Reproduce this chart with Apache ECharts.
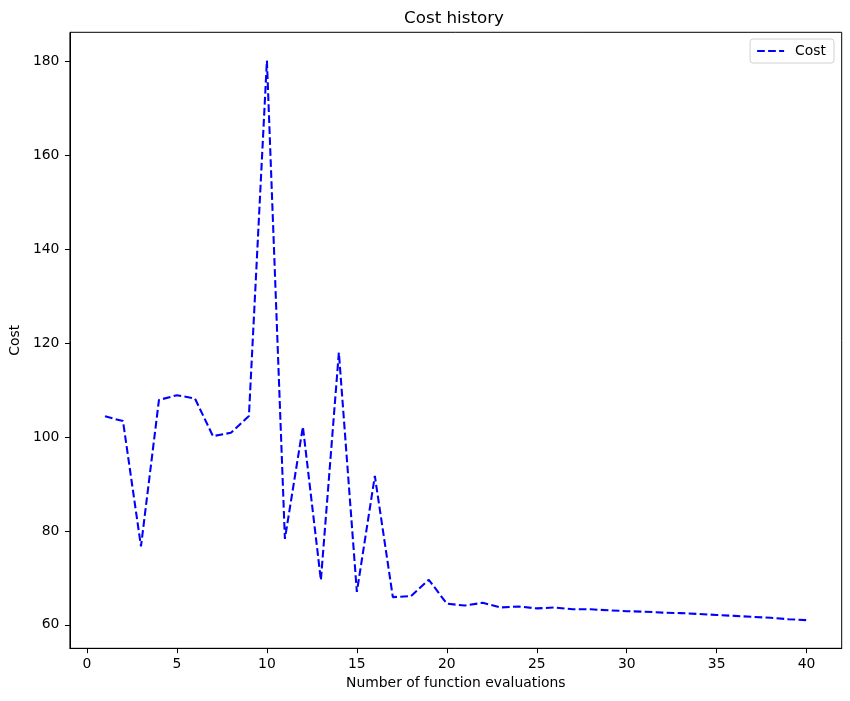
<!DOCTYPE html>
<html>
<head>
<meta charset="utf-8">
<title>Cost history</title>
<script src="https://cdn.jsdelivr.net/npm/echarts@6/dist/echarts.min.js"></script>
<style>
  html, body { margin: 0; padding: 0; background: #fff; }
  #main { width: 850px; height: 701px; }
</style>
</head>
<body>
<div id="main"></div>
<script>
// evaluations 1..40
const evaluations = [
  1, 2, 3, 4, 5, 6, 7, 8, 9, 10,
  11, 12, 13, 14, 15, 16, 17, 18, 19, 20,
  21, 22, 23, 24, 25, 26, 27, 28, 29, 30,
  31, 32, 33, 34, 35, 36, 37, 38, 39, 40
];
const cost = [
  104.4, 103.4, 76.7, 107.9, 108.9, 108.2, 100.2, 100.9, 104.5, 180.2,
  78.3, 102.2, 69.5, 118.0, 67.0, 91.7, 65.9, 66.1, 69.6, 64.5,
  64.1, 64.7, 63.7, 63.9, 63.5, 63.7, 63.3, 63.3, 63.1, 62.9,
  62.8, 62.6, 62.5, 62.3, 62.1, 61.9, 61.7, 61.5, 61.2, 61.0
];
const xTicks = [0, 5, 10, 15, 20, 25, 30, 35, 40];
const yTicks = [60, 80, 100, 120, 140, 160, 180];

const chartDom = document.getElementById("main");
const myChart = echarts.init(chartDom);
const font = "DejaVu Sans";

const option = {
  animation: false,
  title: {
    text: "Cost history",
    left: 454,
    top: 10,
    padding: 0,
    textAlign: "center",
    textStyle: { fontFamily: font, fontSize: 16.7, fontWeight: "normal", color: "#000" },
  },
  legend: {
    right: 16,
    top: 39,
    padding: [5, 8, 5, 6],
    backgroundColor: "#fff",
    borderColor: "#d0d0d0",
    borderWidth: 1,
    borderRadius: 3,
    itemWidth: 27,
    itemHeight: 14,
    itemStyle: { color: "transparent", borderWidth: 0 },
    lineStyle: { color: "#0000ff", width: 2.08, type: [7.7, 3.3] },
    textStyle: { fontFamily: font, fontSize: 13.9, color: "#000", padding: [0, 0, 0, 6] },
    data: ["Cost"],
  },
  grid: {
    left: 66.7,
    right: 8.3,
    top: 32.3,
    bottom: 52.7,
    show: true,
    borderColor: "#000",
    borderWidth: 1,
    containLabel: false,
  },
  xAxis: {
    type: "value",
    min: -0.95,
    max: 41.95,
    name: "Number of function evaluations",
    nameLocation: "middle",
    nameGap: 27,
    nameTextStyle: { fontFamily: font, fontSize: 13.9, color: "#000" },
    axisLine: { show: true, onZero: false, lineStyle: { color: "#000", width: 1 } },
    axisTick: { show: true, length: 4.9, customValues: xTicks, lineStyle: { color: "#000" } },
    axisLabel: { customValues: xTicks, margin: 9.5, fontFamily: font, fontSize: 13.9, color: "#000" },
    splitLine: { show: false },
  },
  yAxis: {
    type: "value",
    min: 55.0,
    max: 186.2,
    name: "Cost",
    nameLocation: "middle",
    nameGap: 39,
    nameTextStyle: { fontFamily: font, fontSize: 13.9, color: "#000" },
    axisLine: { show: true, onZero: false, lineStyle: { color: "#000", width: 1 } },
    axisTick: { show: true, length: 4.9, customValues: yTicks, lineStyle: { color: "#000" } },
    axisLabel: { customValues: yTicks, margin: 10.5, fontFamily: font, fontSize: 13.9, color: "#000" },
    splitLine: { show: false },
  },
  series: [
    {
      name: "Cost",
      type: "line",
      symbol: "none",
      data: evaluations.map((x, i) => [x, cost[i]]),
      lineStyle: { color: "#0000ff", width: 2.08, type: [7.7, 3.3] },
      itemStyle: { color: "#0000ff" },
    },
  ],
};

option && myChart.setOption(option);
</script>
</body>
</html>
